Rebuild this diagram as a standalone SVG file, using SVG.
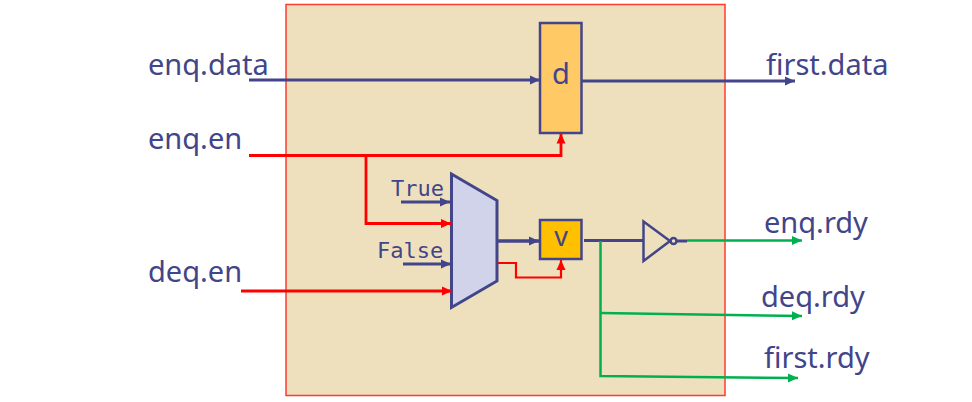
<svg xmlns="http://www.w3.org/2000/svg" width="972" height="402" viewBox="0 0 972 402">
<style>
text{font-family:"Noto Sans","DejaVu Sans",sans-serif;fill:#424589}
.l{font-size:29px}
.m{font-family:"DejaVu Sans Mono","Liberation Mono",monospace;font-size:22px}
.w{fill:none;stroke-linejoin:miter}
.b{stroke:#424589}
.r{stroke:#ff0000}
.g{stroke:#00b050}
.s{stroke:#424589;stroke-width:2.500}
</style>
<defs>
<marker id="ab" markerUnits="userSpaceOnUse" markerWidth="12" markerHeight="12" refX="10" refY="6" orient="auto"><path d="M0 1.500L10 6L0 10.500Z" fill="#424589"/></marker>
<marker id="ar" markerUnits="userSpaceOnUse" markerWidth="12" markerHeight="12" refX="10" refY="6" orient="auto"><path d="M0 1.500L10 6L0 10.500Z" fill="#ff0000"/></marker>
<marker id="ag" markerUnits="userSpaceOnUse" markerWidth="12" markerHeight="12" refX="10" refY="6" orient="auto"><path d="M0 1.500L10 6L0 10.500Z" fill="#00b050"/></marker>
</defs>
<g id="container"><rect x="286" y="4.500" width="439" height="391" fill="#efe0bd" stroke="#ff3b30" stroke-width="1.500"/></g>
<g id="reg-d"><rect x="540" y="23" width="41.500" height="110" fill="#ffc965" class="s"/><text x="561" y="84" text-anchor="middle" class="l">d</text></g>
<g id="mux"><path d="M451.500 174L497 200.500V281L451.500 307.500Z" fill="#d0d3ea" stroke="#424589" stroke-width="3"/></g>
<g id="reg-v"><rect x="540" y="220" width="41.500" height="39" fill="#ffc000" class="s"/><text x="561" y="246" text-anchor="middle" class="l" style="font-size:27px">v</text></g>
<g id="inverter"><path d="M643.500 221.500L670 241L643.500 261Z" fill="none" class="s"/><circle cx="673.500" cy="241" r="3" fill="none" class="s"/></g>
<g id="connectors" class="w">
<path class="b" stroke-width="2.800" d="M249 80H540" marker-end="url(#ab)"/>
<path class="b" stroke-width="3.200" d="M582 81H795" marker-end="url(#ab)"/>
<path class="r" stroke-width="2.800" d="M249 155.500H561V133.500" marker-end="url(#ar)"/>
<path class="r" stroke-width="2.800" d="M366 155.500V223.500H451" marker-end="url(#ar)"/>
<path class="b" stroke-width="2.800" d="M401 202H450" marker-end="url(#ab)"/>
<path class="b" stroke-width="2.800" d="M403 264H451" marker-end="url(#ab)"/>
<path class="r" stroke-width="2.800" d="M241 291H452" marker-end="url(#ar)"/>
<path class="b" stroke-width="3.500" d="M498 241H539" marker-end="url(#ab)"/>
<path class="r" stroke-width="2.200" d="M497 263H516V277.500H561V260" marker-end="url(#ar)"/>
<path class="b" stroke-width="3" d="M584 240.500H643"/>
<path class="b" stroke-width="3" d="M677 241H687"/>
<path class="g" stroke-width="2.500" d="M687 240.500H802" marker-end="url(#ag)"/>
<path class="g" stroke-width="2.500" d="M600.500 241V376L798 378" marker-end="url(#ag)"/>
<path class="g" stroke-width="2.500" d="M600.500 313L802 316" marker-end="url(#ag)"/>
</g>
<g id="labels">
<text x="148" y="74.500" class="l">enq.data</text>
<text x="148" y="148.500" class="l">enq.en</text>
<text x="148" y="281.500" class="l">deq.en</text>
<text x="766" y="75" class="l">first.data</text>
<text x="764" y="232.500" class="l">enq.rdy</text>
<text x="761" y="306.500" class="l">deq.rdy</text>
<text x="764" y="367.500" class="l">first.rdy</text>
<text x="391" y="196" class="m">True</text>
<text x="377" y="258" class="m">False</text>
</g>
</svg>
